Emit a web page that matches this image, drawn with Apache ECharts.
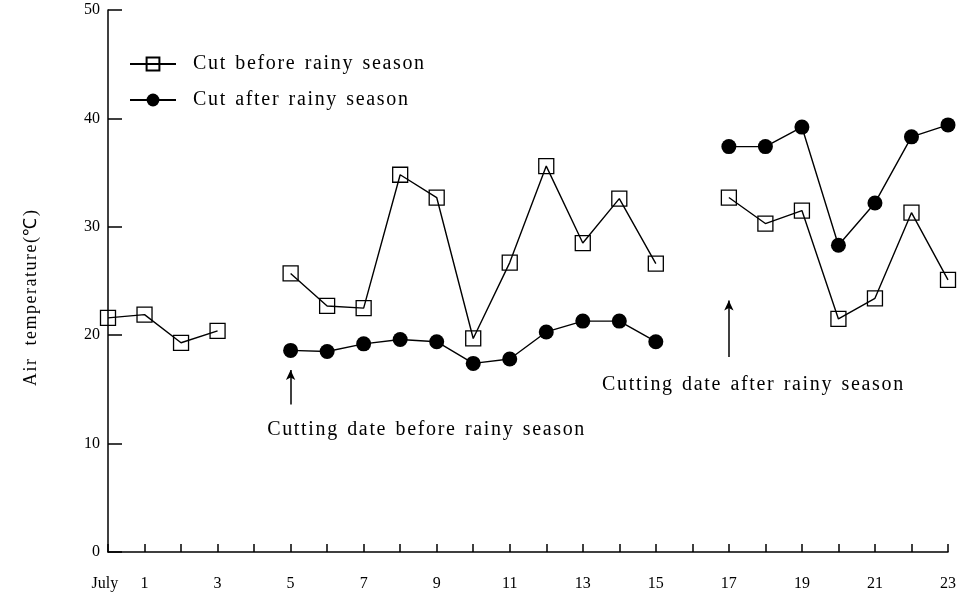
<!DOCTYPE html>
<html>
<head>
<meta charset="utf-8">
<script src="https://cdn.jsdelivr.net/npm/echarts@6/dist/echarts.min.js"></script>
<style>
  html, body { margin: 0; padding: 0; background: #fff; }
  #chart { width: 962px; height: 595px; }
</style>
</head>
<body>
<div id="chart"></div>
<script>
// day of July (0 = June 30), null = no measurement
const days = [0, 1, 2, 3, 4, 5, 6, 7, 8, 9, 10, 11, 12, 13, 14, 15, 16, 17, 18, 19, 20, 21, 22, 23]
const cutBefore = [21.6, 21.9, 19.3, 20.4, null, 25.7, 22.7, 22.5, 34.8, 32.7, 19.7, 26.7, 35.6, 28.5, 32.6, 26.6, null, 32.7, 30.3, 31.5, 21.5, 23.4, 31.3, 25.1]
const cutAfter = [null, null, null, null, null, 18.6, 18.5, 19.2, 19.6, 19.4, 17.4, 17.8, 20.3, 21.3, 21.3, 19.4, null, 37.4, 37.4, 39.2, 28.3, 32.2, 38.3, 39.4]
const yTicks = [0, 10, 20, 30, 40, 50]

const serif = 'Liberation Serif'
const chart = echarts.init(document.getElementById('chart'))

// old typeset look: letters spread out a little, wide gaps between words
function spaced (s, gap) {
  return s.split(' ').map(w => w.split('').join('\u200A')).join(gap || '  ')
}

function pairs (vals) {
  return days.map((d, i) => [d, vals[i] == null ? '-' : vals[i]])
}

const nameBefore = spaced('Cut before rainy season')
const nameAfter = spaced('Cut after rainy season')

const option = {
  animation: false,
  backgroundColor: '#fff',
  grid: { left: 108, right: 14, top: 10, bottom: 43 },
  legend: {
    orient: 'vertical',
    left: 124,
    top: 49,
    itemWidth: 46,
    itemHeight: 16,
    itemGap: 16,
    textStyle: { fontFamily: serif, fontSize: 20, color: '#000', padding: [0, 0, 0, 12] },
    data: [nameBefore, nameAfter]
  },
  xAxis: {
    type: 'value',
    min: 0,
    max: 23,
    interval: 1,
    axisLine: { lineStyle: { color: '#000', width: 1.5 } },
    axisTick: { inside: true, length: 8, lineStyle: { color: '#000', width: 1.5 } },
    splitLine: { show: false },
    axisLabel: {
      margin: 24,
      fontFamily: serif,
      fontSize: 16,
      color: '#000',
      formatter: function (v) {
        if (v === 1) return '{j|July}{n|1}{p|}'
        return v % 2 === 1 ? String(v) : ''
      },
      rich: {
        j: { width: 48, align: 'left', fontFamily: serif, fontSize: 16, color: '#000' },
        n: { width: 10, align: 'center', fontFamily: serif, fontSize: 16, color: '#000' },
        p: { width: 48 }
      }
    }
  },
  yAxis: {
    type: 'value',
    min: yTicks[0],
    max: yTicks[yTicks.length - 1],
    interval: 10,
    name: spaced('Air temperature(℃)', '   '),
    nameLocation: 'middle',
    nameRotate: 90,
    nameGap: 68,
    nameTextStyle: { fontFamily: serif, fontSize: 18, color: '#000', padding: [0, 34, 0, 0] },
    axisLine: { lineStyle: { color: '#000', width: 1.5 } },
    axisTick: { inside: true, length: 14, lineStyle: { color: '#000', width: 1.5 } },
    splitLine: { show: false },
    axisLabel: { margin: 8, fontFamily: serif, fontSize: 16, color: '#000' }
  },
  series: [
    {
      name: nameBefore,
      type: 'line',
      data: pairs(cutBefore),
      symbol: 'rect',
      symbolSize: 15,
      lineStyle: { color: '#000', width: 1.4 },
      itemStyle: { color: 'rgba(255,255,255,0)', borderColor: '#000', borderWidth: 1.3 },
      markLine: {
        silent: true,
        symbol: ['none', 'arrow'],
        symbolSize: [7, 10],
        lineStyle: { color: '#000', width: 1.5, type: 'solid' },
        label: { show: false },
        data: [
          [{ coord: [5, 13.6] }, { coord: [5, 16.8] }],
          [{ coord: [17, 18.0] }, { coord: [17, 23.2] }]
        ]
      },
      markPoint: {
        silent: true,
        symbol: 'circle',
        symbolSize: 0,
        label: {
          show: true,
          fontFamily: serif,
          fontSize: 20,
          color: '#000',
          formatter: '{b}'
        },
        data: [
          { name: spaced('Cutting date before rainy season'), coord: [8.7, 11.3] },
          { name: spaced('Cutting date after rainy season'), coord: [17.65, 15.4] }
        ]
      }
    },
    {
      name: nameAfter,
      type: 'line',
      data: pairs(cutAfter),
      symbol: 'circle',
      symbolSize: 15,
      lineStyle: { color: '#000', width: 1.4 },
      itemStyle: { color: '#000' }
    }
  ]
}
chart.setOption(option)
</script>
</body>
</html>
